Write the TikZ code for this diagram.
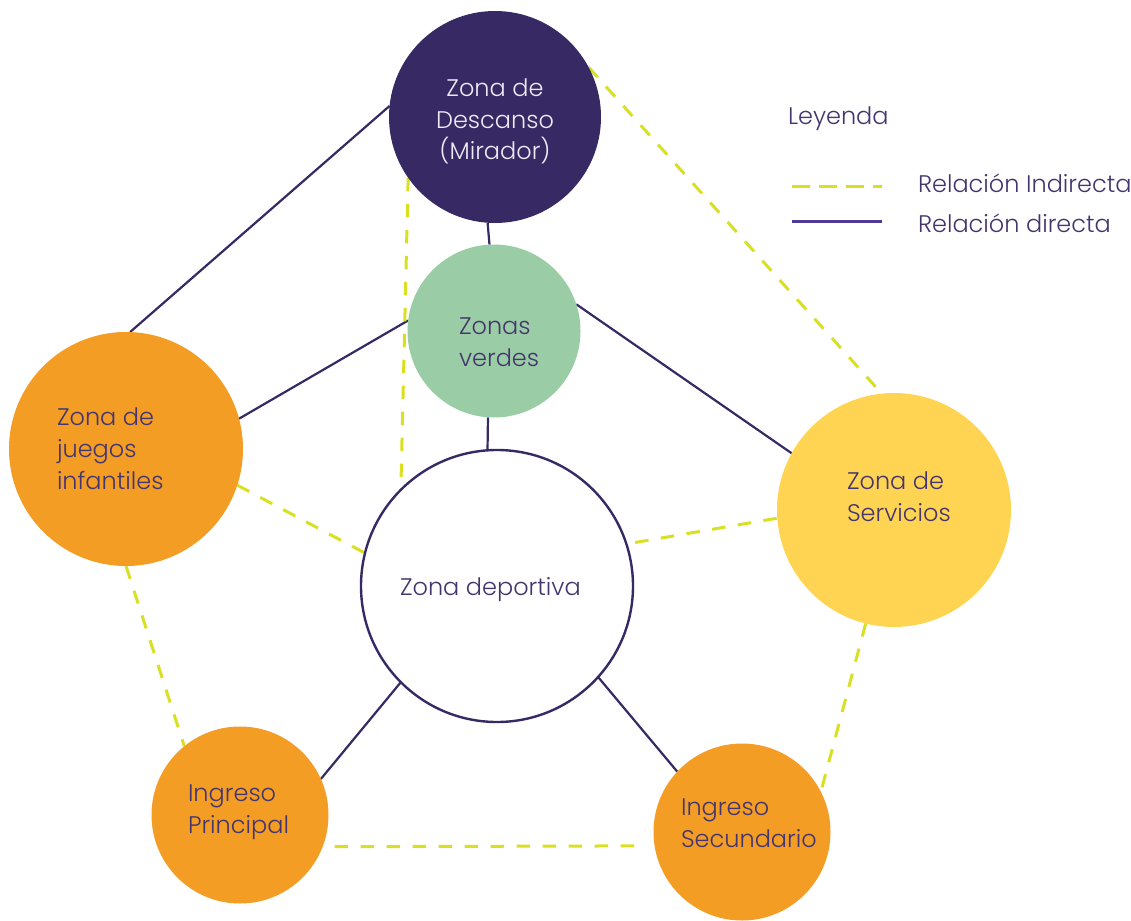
\documentclass[tikz,border=0pt]{standalone}
\usepackage{fontspec}
\setmainfont{Poppins}[UprightFont=* Light]
\usetikzlibrary{backgrounds}
\definecolor{dpurple}{HTML}{372963}
\definecolor{tpurple}{HTML}{44356F}
\definecolor{lpurple}{HTML}{4E3A99}
\definecolor{zgreen}{HTML}{9ACDA5}
\definecolor{zorange}{HTML}{F49D25}
\definecolor{zyellow}{HTML}{FFD452}
\definecolor{zdash}{HTML}{D9E021}
\definecolor{ltext}{HTML}{EDEAF5}
\tikzset{
  zone/.style={circle, inner sep=0pt, outer sep=0pt},
  lbl/.style={inner sep=0pt, outer sep=0pt, text=tpurple, font=\fontsize{24}{31.6}\selectfont},
  direct/.style={draw=dpurple, line width=2.2pt},
  indirect/.style={draw=zdash, line width=3pt, dash pattern=on 13.5pt off 12.5pt},
}
\begin{document}
\begin{tikzpicture}[x=1pt,y=-1pt]
\useasboundingbox (0,0) rectangle (1131,920);
% circles
\node[zone, fill=dpurple, minimum size=212pt] (desc) at (495,117) {};
\node[zone, fill=zgreen, minimum size=173pt] (verd) at (494,331) {};
\node[zone, fill=zorange, minimum size=234pt] (jueg) at (126,449) {};
\node[zone, fill=white, draw=dpurple, line width=2.4pt, minimum size=272pt] (depo) at (497,586) {};
\node[zone, fill=zyellow, minimum size=234pt] (serv) at (894,510) {};
\node[zone, fill=zorange, minimum size=177pt] (ip) at (240,815) {};
\node[zone, fill=zorange, minimum size=177pt] (is) at (742,832) {};
% connectors
\begin{scope}[on background layer]
\draw[direct] (desc.174.6) -- (jueg.88.5);
\draw[direct] (desc.266.7) -- (verd.93.3);
\draw[direct] (verd.173.4) -- (jueg.15.2);
\draw[direct] (verd.18.4) -- (serv.151.9);
\draw[direct] (verd.266) -- (depo.94.2);
\draw[direct] (depo.225.3) -- (ip.24.3);
\draw[direct] (depo.318.8) -- (is.137.7);
\draw[indirect] (desc.28.7) -- (serv.96.4);
\draw[indirect] (desc.215) -- (depo.135);
\draw[indirect] (jueg.342.5) -- (depo.166.3);
\draw[indirect, shorten <=9pt] (depo.18.3) -- (serv.184.9);
\draw[indirect] (jueg.270) -- (ip.129.4);
\draw[indirect] (serv.256.7) -- (is.27.1);
\draw[indirect, shorten <=12pt, shorten >=14pt] (ip.339.4) -- (is.189.8);
\end{scope}
% labels (base anchor = baseline of last line)
\node[lbl, text=ltext, align=center, anchor=base] (tdesc) at (495,160) {Zona de\\Descanso\\(Mirador)};
\node[lbl, align=left, anchor=base west] (tverd) at (459,366) {Zonas\\verdes};
\node[lbl, align=left, anchor=base west] (tjueg) at (57,489) {Zona de\\juegos\\infantiles};
\node[lbl, anchor=base west] (tdepo) at (400,595) {Zona deportiva};
\node[lbl, align=left, anchor=base west] (tserv) at (847,521) {Zona de\\Servicios};
\node[lbl, align=left, anchor=base west] (tip) at (188,833) {Ingreso\\Principal};
\node[lbl, align=left, anchor=base west] (tis) at (681,847) {Ingreso\\Secundario};
% legend
\node[lbl, anchor=base west] (leg) at (788,125) {Leyenda};
\coordinate (l1a) at (792,186);
\coordinate (l1b) at (882,186);
\coordinate (l2a) at (792,221);
\coordinate (l2b) at (882,221);
\draw[draw=zdash, line width=3pt, dash pattern=on 18pt off 9pt] (l1a) -- (l1b);
\draw[draw=lpurple, line width=3pt] (l2a) -- (l2b);
\node[lbl, anchor=base west] (li) at (918,193) {Relación Indirecta};
\node[lbl, anchor=base west] (ld) at (918,232) {Relación directa};
\end{tikzpicture}
\end{document}
